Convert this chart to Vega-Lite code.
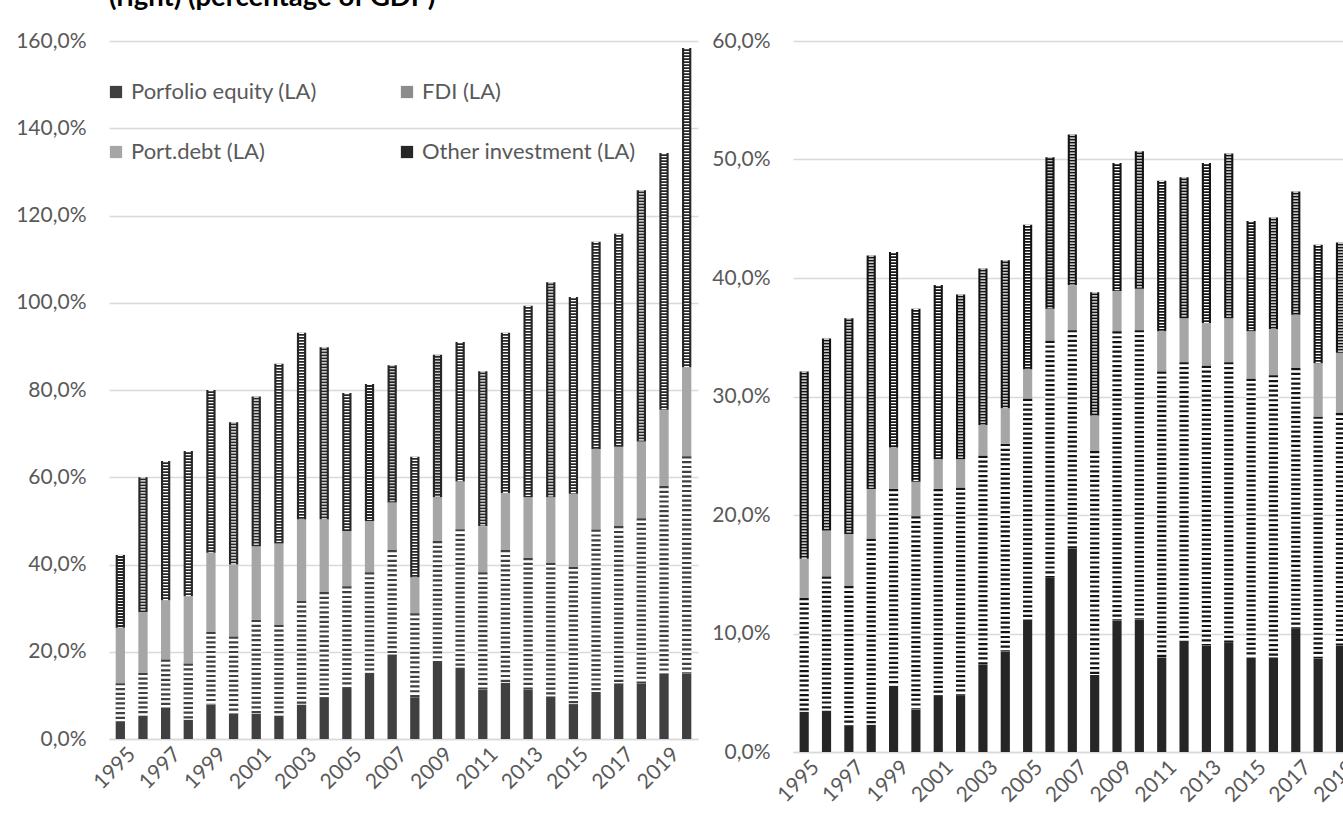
{
  "$schema": "https://vega.github.io/schema/vega-lite/v6.json",
  "padding": {"left": 15, "top": -17, "right": -30, "bottom": 0},
  "background": "#ffffff",
  "bounds": "flush",
  "spacing": 95,
  "config": {
    "view": {"stroke": null},
    "font": "Lato",
    "axisX": {"labelAngle": -45, "labelAlign": "right", "labelBaseline": "middle", "labelPadding": 12, "labelOffset": 12, "ticks": false, "domainColor": "#d9d9d9", "domainWidth": 1.5, "labelColor": "#595959", "labelFont": "Lato", "labelFontSize": 21, "title": null, "grid": false, "labelOverlap": false, "labelFlush": false, "labelBound": false},
    "axisY": {"grid": true, "gridColor": "#d9d9d9", "gridWidth": 1.5, "domain": false, "ticks": false, "labelPadding": 23, "labelColor": "#595959", "labelFont": "Lato", "labelFontSize": 21, "title": null, "labelOverlap": false, "labelExpr": "replace(format(datum.value, '.1f'), '.', ',') + '%'"}
  },
  "resolve": {"scale": {"color": "independent"}},
  "datasets": {
    "left": [
      {"year":"1995","series":"Porfolio equity (LA)","k":1,"v":4.1},{"year":"1995","series":"FDI (LA)","k":2,"v":8.7},{"year":"1995","series":"Port.debt (LA)","k":3,"v":12.7},{"year":"1995","series":"Other investment (LA)","k":4,"v":16.7},
      {"year":"1996","series":"Porfolio equity (LA)","k":1,"v":5.4},{"year":"1996","series":"FDI (LA)","k":2,"v":9.8},{"year":"1996","series":"Port.debt (LA)","k":3,"v":13.9},{"year":"1996","series":"Other investment (LA)","k":4,"v":30.9},
      {"year":"1997","series":"Porfolio equity (LA)","k":1,"v":6.9},{"year":"1997","series":"FDI (LA)","k":2,"v":11.3},{"year":"1997","series":"Port.debt (LA)","k":3,"v":13.6},{"year":"1997","series":"Other investment (LA)","k":4,"v":31.9},
      {"year":"1998","series":"Porfolio equity (LA)","k":1,"v":4.4},{"year":"1998","series":"FDI (LA)","k":2,"v":12.9},{"year":"1998","series":"Port.debt (LA)","k":3,"v":15.4},{"year":"1998","series":"Other investment (LA)","k":4,"v":33.3},
      {"year":"1999","series":"Porfolio equity (LA)","k":1,"v":7.9},{"year":"1999","series":"FDI (LA)","k":2,"v":16.7},{"year":"1999","series":"Port.debt (LA)","k":3,"v":18.1},{"year":"1999","series":"Other investment (LA)","k":4,"v":37.3},
      {"year":"2000","series":"Porfolio equity (LA)","k":1,"v":5.8},{"year":"2000","series":"FDI (LA)","k":2,"v":17.7},{"year":"2000","series":"Port.debt (LA)","k":3,"v":16.5},{"year":"2000","series":"Other investment (LA)","k":4,"v":32.6},
      {"year":"2001","series":"Porfolio equity (LA)","k":1,"v":5.8},{"year":"2001","series":"FDI (LA)","k":2,"v":21.5},{"year":"2001","series":"Port.debt (LA)","k":3,"v":16.9},{"year":"2001","series":"Other investment (LA)","k":4,"v":34.3},
      {"year":"2002","series":"Porfolio equity (LA)","k":1,"v":5.4},{"year":"2002","series":"FDI (LA)","k":2,"v":20.8},{"year":"2002","series":"Port.debt (LA)","k":3,"v":18.6},{"year":"2002","series":"Other investment (LA)","k":4,"v":41.2},
      {"year":"2003","series":"Porfolio equity (LA)","k":1,"v":7.9},{"year":"2003","series":"FDI (LA)","k":2,"v":23.8},{"year":"2003","series":"Port.debt (LA)","k":3,"v":18.7},{"year":"2003","series":"Other investment (LA)","k":4,"v":42.7},
      {"year":"2004","series":"Porfolio equity (LA)","k":1,"v":9.6},{"year":"2004","series":"FDI (LA)","k":2,"v":24.1},{"year":"2004","series":"Port.debt (LA)","k":3,"v":16.7},{"year":"2004","series":"Other investment (LA)","k":4,"v":39.4},
      {"year":"2005","series":"Porfolio equity (LA)","k":1,"v":11.9},{"year":"2005","series":"FDI (LA)","k":2,"v":23.1},{"year":"2005","series":"Port.debt (LA)","k":3,"v":12.7},{"year":"2005","series":"Other investment (LA)","k":4,"v":31.6},
      {"year":"2006","series":"Porfolio equity (LA)","k":1,"v":15.2},{"year":"2006","series":"FDI (LA)","k":2,"v":23.0},{"year":"2006","series":"Port.debt (LA)","k":3,"v":11.8},{"year":"2006","series":"Other investment (LA)","k":4,"v":31.4},
      {"year":"2007","series":"Porfolio equity (LA)","k":1,"v":19.4},{"year":"2007","series":"FDI (LA)","k":2,"v":23.9},{"year":"2007","series":"Port.debt (LA)","k":3,"v":10.9},{"year":"2007","series":"Other investment (LA)","k":4,"v":31.5},
      {"year":"2008","series":"Porfolio equity (LA)","k":1,"v":9.6},{"year":"2008","series":"FDI (LA)","k":2,"v":19.2},{"year":"2008","series":"Port.debt (LA)","k":3,"v":8.3},{"year":"2008","series":"Other investment (LA)","k":4,"v":27.6},
      {"year":"2009","series":"Porfolio equity (LA)","k":1,"v":17.9},{"year":"2009","series":"FDI (LA)","k":2,"v":27.5},{"year":"2009","series":"Port.debt (LA)","k":3,"v":10.0},{"year":"2009","series":"Other investment (LA)","k":4,"v":32.7},
      {"year":"2010","series":"Porfolio equity (LA)","k":1,"v":16.4},{"year":"2010","series":"FDI (LA)","k":2,"v":31.7},{"year":"2010","series":"Port.debt (LA)","k":3,"v":10.9},{"year":"2010","series":"Other investment (LA)","k":4,"v":32.0},
      {"year":"2011","series":"Porfolio equity (LA)","k":1,"v":11.4},{"year":"2011","series":"FDI (LA)","k":2,"v":26.8},{"year":"2011","series":"Port.debt (LA)","k":3,"v":10.6},{"year":"2011","series":"Other investment (LA)","k":4,"v":35.5},
      {"year":"2012","series":"Porfolio equity (LA)","k":1,"v":12.9},{"year":"2012","series":"FDI (LA)","k":2,"v":30.4},{"year":"2012","series":"Port.debt (LA)","k":3,"v":13.1},{"year":"2012","series":"Other investment (LA)","k":4,"v":36.7},
      {"year":"2013","series":"Porfolio equity (LA)","k":1,"v":11.4},{"year":"2013","series":"FDI (LA)","k":2,"v":30.1},{"year":"2013","series":"Port.debt (LA)","k":3,"v":13.9},{"year":"2013","series":"Other investment (LA)","k":4,"v":43.9},
      {"year":"2014","series":"Porfolio equity (LA)","k":1,"v":9.8},{"year":"2014","series":"FDI (LA)","k":2,"v":30.6},{"year":"2014","series":"Port.debt (LA)","k":3,"v":15.0},{"year":"2014","series":"Other investment (LA)","k":4,"v":49.3},
      {"year":"2015","series":"Porfolio equity (LA)","k":1,"v":8.0},{"year":"2015","series":"FDI (LA)","k":2,"v":31.5},{"year":"2015","series":"Port.debt (LA)","k":3,"v":16.7},{"year":"2015","series":"Other investment (LA)","k":4,"v":45.1},
      {"year":"2016","series":"Porfolio equity (LA)","k":1,"v":10.8},{"year":"2016","series":"FDI (LA)","k":2,"v":37.2},{"year":"2016","series":"Port.debt (LA)","k":3,"v":18.5},{"year":"2016","series":"Other investment (LA)","k":4,"v":47.5},
      {"year":"2017","series":"Porfolio equity (LA)","k":1,"v":12.8},{"year":"2017","series":"FDI (LA)","k":2,"v":36.0},{"year":"2017","series":"Port.debt (LA)","k":3,"v":18.2},{"year":"2017","series":"Other investment (LA)","k":4,"v":48.8},
      {"year":"2018","series":"Porfolio equity (LA)","k":1,"v":12.8},{"year":"2018","series":"FDI (LA)","k":2,"v":37.8},{"year":"2018","series":"Port.debt (LA)","k":3,"v":17.6},{"year":"2018","series":"Other investment (LA)","k":4,"v":57.6},
      {"year":"2019","series":"Porfolio equity (LA)","k":1,"v":15.1},{"year":"2019","series":"FDI (LA)","k":2,"v":42.9},{"year":"2019","series":"Port.debt (LA)","k":3,"v":17.5},{"year":"2019","series":"Other investment (LA)","k":4,"v":58.8},
      {"year":"2020","series":"Porfolio equity (LA)","k":1,"v":15.1},{"year":"2020","series":"FDI (LA)","k":2,"v":49.7},{"year":"2020","series":"Port.debt (LA)","k":3,"v":20.4},{"year":"2020","series":"Other investment (LA)","k":4,"v":73.2}
    ],
    "right": [
      {"year":"1995","series":"Porfolio equity (LA)","k":1,"v":3.4},{"year":"1995","series":"FDI (LA)","k":2,"v":9.6},{"year":"1995","series":"Port.debt (LA)","k":3,"v":3.3},{"year":"1995","series":"Other investment (LA)","k":4,"v":15.8},
      {"year":"1996","series":"Porfolio equity (LA)","k":1,"v":3.5},{"year":"1996","series":"FDI (LA)","k":2,"v":11.3},{"year":"1996","series":"Port.debt (LA)","k":3,"v":3.9},{"year":"1996","series":"Other investment (LA)","k":4,"v":16.2},
      {"year":"1997","series":"Porfolio equity (LA)","k":1,"v":2.2},{"year":"1997","series":"FDI (LA)","k":2,"v":11.8},{"year":"1997","series":"Port.debt (LA)","k":3,"v":4.4},{"year":"1997","series":"Other investment (LA)","k":4,"v":18.2},
      {"year":"1998","series":"Porfolio equity (LA)","k":1,"v":2.3},{"year":"1998","series":"FDI (LA)","k":2,"v":15.7},{"year":"1998","series":"Port.debt (LA)","k":3,"v":4.2},{"year":"1998","series":"Other investment (LA)","k":4,"v":19.7},
      {"year":"1999","series":"Porfolio equity (LA)","k":1,"v":5.6},{"year":"1999","series":"FDI (LA)","k":2,"v":16.6},{"year":"1999","series":"Port.debt (LA)","k":3,"v":3.5},{"year":"1999","series":"Other investment (LA)","k":4,"v":16.5},
      {"year":"2000","series":"Porfolio equity (LA)","k":1,"v":3.6},{"year":"2000","series":"FDI (LA)","k":2,"v":16.3},{"year":"2000","series":"Port.debt (LA)","k":3,"v":2.9},{"year":"2000","series":"Other investment (LA)","k":4,"v":14.6},
      {"year":"2001","series":"Porfolio equity (LA)","k":1,"v":4.8},{"year":"2001","series":"FDI (LA)","k":2,"v":17.4},{"year":"2001","series":"Port.debt (LA)","k":3,"v":2.5},{"year":"2001","series":"Other investment (LA)","k":4,"v":14.7},
      {"year":"2002","series":"Porfolio equity (LA)","k":1,"v":4.8},{"year":"2002","series":"FDI (LA)","k":2,"v":17.5},{"year":"2002","series":"Port.debt (LA)","k":3,"v":2.4},{"year":"2002","series":"Other investment (LA)","k":4,"v":13.9},
      {"year":"2003","series":"Porfolio equity (LA)","k":1,"v":7.4},{"year":"2003","series":"FDI (LA)","k":2,"v":17.6},{"year":"2003","series":"Port.debt (LA)","k":3,"v":2.6},{"year":"2003","series":"Other investment (LA)","k":4,"v":13.2},
      {"year":"2004","series":"Porfolio equity (LA)","k":1,"v":8.5},{"year":"2004","series":"FDI (LA)","k":2,"v":17.5},{"year":"2004","series":"Port.debt (LA)","k":3,"v":3.0},{"year":"2004","series":"Other investment (LA)","k":4,"v":12.5},
      {"year":"2005","series":"Porfolio equity (LA)","k":1,"v":11.2},{"year":"2005","series":"FDI (LA)","k":2,"v":18.6},{"year":"2005","series":"Port.debt (LA)","k":3,"v":2.5},{"year":"2005","series":"Other investment (LA)","k":4,"v":12.2},
      {"year":"2006","series":"Porfolio equity (LA)","k":1,"v":14.7},{"year":"2006","series":"FDI (LA)","k":2,"v":20.0},{"year":"2006","series":"Port.debt (LA)","k":3,"v":2.7},{"year":"2006","series":"Other investment (LA)","k":4,"v":12.8},
      {"year":"2007","series":"Porfolio equity (LA)","k":1,"v":17.2},{"year":"2007","series":"FDI (LA)","k":2,"v":18.4},{"year":"2007","series":"Port.debt (LA)","k":3,"v":3.8},{"year":"2007","series":"Other investment (LA)","k":4,"v":12.7},
      {"year":"2008","series":"Porfolio equity (LA)","k":1,"v":6.5},{"year":"2008","series":"FDI (LA)","k":2,"v":18.9},{"year":"2008","series":"Port.debt (LA)","k":3,"v":3.0},{"year":"2008","series":"Other investment (LA)","k":4,"v":10.4},
      {"year":"2009","series":"Porfolio equity (LA)","k":1,"v":11.1},{"year":"2009","series":"FDI (LA)","k":2,"v":24.4},{"year":"2009","series":"Port.debt (LA)","k":3,"v":3.4},{"year":"2009","series":"Other investment (LA)","k":4,"v":10.8},
      {"year":"2010","series":"Porfolio equity (LA)","k":1,"v":11.2},{"year":"2010","series":"FDI (LA)","k":2,"v":24.4},{"year":"2010","series":"Port.debt (LA)","k":3,"v":3.5},{"year":"2010","series":"Other investment (LA)","k":4,"v":11.6},
      {"year":"2011","series":"Porfolio equity (LA)","k":1,"v":8.0},{"year":"2011","series":"FDI (LA)","k":2,"v":24.1},{"year":"2011","series":"Port.debt (LA)","k":3,"v":3.4},{"year":"2011","series":"Other investment (LA)","k":4,"v":12.7},
      {"year":"2012","series":"Porfolio equity (LA)","k":1,"v":9.4},{"year":"2012","series":"FDI (LA)","k":2,"v":23.5},{"year":"2012","series":"Port.debt (LA)","k":3,"v":3.7},{"year":"2012","series":"Other investment (LA)","k":4,"v":11.9},
      {"year":"2013","series":"Porfolio equity (LA)","k":1,"v":9.0},{"year":"2013","series":"FDI (LA)","k":2,"v":23.6},{"year":"2013","series":"Port.debt (LA)","k":3,"v":3.6},{"year":"2013","series":"Other investment (LA)","k":4,"v":13.5},
      {"year":"2014","series":"Porfolio equity (LA)","k":1,"v":9.2},{"year":"2014","series":"FDI (LA)","k":2,"v":23.7},{"year":"2014","series":"Port.debt (LA)","k":3,"v":3.7},{"year":"2014","series":"Other investment (LA)","k":4,"v":13.9},
      {"year":"2015","series":"Porfolio equity (LA)","k":1,"v":8.0},{"year":"2015","series":"FDI (LA)","k":2,"v":23.5},{"year":"2015","series":"Port.debt (LA)","k":3,"v":4.0},{"year":"2015","series":"Other investment (LA)","k":4,"v":9.3},
      {"year":"2016","series":"Porfolio equity (LA)","k":1,"v":8.0},{"year":"2016","series":"FDI (LA)","k":2,"v":23.8},{"year":"2016","series":"Port.debt (LA)","k":3,"v":3.9},{"year":"2016","series":"Other investment (LA)","k":4,"v":9.4},
      {"year":"2017","series":"Porfolio equity (LA)","k":1,"v":10.4},{"year":"2017","series":"FDI (LA)","k":2,"v":22.0},{"year":"2017","series":"Port.debt (LA)","k":3,"v":4.5},{"year":"2017","series":"Other investment (LA)","k":4,"v":10.4},
      {"year":"2018","series":"Porfolio equity (LA)","k":1,"v":7.9},{"year":"2018","series":"FDI (LA)","k":2,"v":20.4},{"year":"2018","series":"Port.debt (LA)","k":3,"v":4.5},{"year":"2018","series":"Other investment (LA)","k":4,"v":10.0},
      {"year":"2019","series":"Porfolio equity (LA)","k":1,"v":9.0},{"year":"2019","series":"FDI (LA)","k":2,"v":19.6},{"year":"2019","series":"Port.debt (LA)","k":3,"v":5.1},{"year":"2019","series":"Other investment (LA)","k":4,"v":9.3}
    ]
  },
  "hconcat": [
    {
      "width": 589,
      "height": 698,
      "data": {"name": "left"},
      "title": {"text": "(right) (percentage of GDP)", "anchor": "start", "frame": "group", "font": "Lato", "fontSize": 27.5, "fontWeight": "bold", "color": "#000000", "offset": 19},
      "transform": [{"stack": "v", "groupby": ["year"], "sort": [{"field": "k", "order": "ascending"}], "as": ["v0", "v1"]}],
      "encoding": {
        "x": {"field": "year", "type": "ordinal", "scale": {"type": "band", "paddingInner": 0.59, "paddingOuter": 0.295}, "axis": {"values": ["1995","1997","1999","2001","2003","2005","2007","2009","2011","2013","2015","2017","2019"]}}
      },
      "layer": [
        {
          "mark": {"type": "bar"},
          "encoding": {
            "y": {"field": "v1", "type": "quantitative", "scale": {"domain": [0, 160], "nice": false}, "axis": {"values": [0, 20, 40, 60, 80, 100, 120, 140, 160]}},
            "y2": {"field": "v0"},
            "color": {
              "field": "series", "type": "nominal",
              "scale": {"domain": ["Porfolio equity (LA)", "Port.debt (LA)", "FDI (LA)", "Other investment (LA)"], "range": ["#404040", "#a6a6a6", "#8c8c8c", "#262626"]},
              "legend": {
                "orient": "none", "legendX": -4, "legendY": 40, "columns": 2, "columnPadding": 79, "rowPadding": 38,
                "symbolType": "square", "symbolSize": 150, "symbolStrokeWidth": 0, "labelFont": "Lato", "labelFontSize": 22, "labelColor": "#595959", "labelOffset": 4, "title": null, "padding": 0, "labelLimit": 400
              }
            }
          }
        },
        {
          "transform": [{"filter": "datum.k === 2"}],
          "mark": {"type": "rule", "strokeWidth": 10, "color": "#ffffff"},
          "encoding": {"y": {"field": "v1", "type": "quantitative"}, "y2": {"field": "v0"}}
        },
        {
          "transform": [{"filter": "datum.k === 2"}],
          "mark": {"type": "rule", "strokeWidth": 9.3, "strokeDash": [2.2, 2.6], "color": "#404040"},
          "encoding": {"y": {"field": "v1", "type": "quantitative"}, "y2": {"field": "v0"}}
        },
        {
          "transform": [{"filter": "datum.k === 4"}],
          "mark": {"type": "rule", "strokeWidth": 5, "strokeDash": [1.2, 1.8], "color": "#ffffff"},
          "encoding": {"y": {"field": "v1", "type": "quantitative"}, "y2": {"field": "v0"}}
        }
      ]
    },
    {
      "width": 581,
      "height": 711,
      "data": {"name": "right"},
      "transform": [{"stack": "v", "groupby": ["year"], "sort": [{"field": "k", "order": "ascending"}], "as": ["v0", "v1"]}],
      "encoding": {
        "x": {"field": "year", "type": "ordinal", "scale": {"type": "band", "domain": ["1995","1996","1997","1998","1999","2000","2001","2002","2003","2004","2005","2006","2007","2008","2009","2010","2011","2012","2013","2014","2015","2016","2017","2018","2019","2020"], "paddingInner": 0.59, "paddingOuter": 0.295}, "axis": {"values": ["1995","1997","1999","2001","2003","2005","2007","2009","2011","2013","2015","2017","2019"]}}
      },
      "layer": [
        {
          "mark": {"type": "bar"},
          "encoding": {
            "y": {"field": "v1", "type": "quantitative", "scale": {"domain": [0, 60], "nice": false}, "axis": {"values": [0, 10, 20, 30, 40, 50, 60]}},
            "y2": {"field": "v0"},
            "color": {
              "field": "series", "type": "nominal",
              "scale": {"domain": ["Porfolio equity (LA)", "Port.debt (LA)", "FDI (LA)", "Other investment (LA)"], "range": ["#262626", "#a6a6a6", "#8c8c8c", "#141414"]},
              "legend": null
            }
          }
        },
        {
          "transform": [{"filter": "datum.k === 2"}],
          "mark": {"type": "rule", "strokeWidth": 10, "color": "#ffffff"},
          "encoding": {"y": {"field": "v1", "type": "quantitative"}, "y2": {"field": "v0"}}
        },
        {
          "transform": [{"filter": "datum.k === 2"}],
          "mark": {"type": "rule", "strokeWidth": 9.2, "strokeDash": [2.2, 2.6], "color": "#141414"},
          "encoding": {"y": {"field": "v1", "type": "quantitative"}, "y2": {"field": "v0"}}
        },
        {
          "transform": [{"filter": "datum.k === 4"}],
          "mark": {"type": "rule", "strokeWidth": 5, "strokeDash": [1.2, 1.8], "color": "#ffffff"},
          "encoding": {"y": {"field": "v1", "type": "quantitative"}, "y2": {"field": "v0"}}
        }
      ]
    }
  ]
}
